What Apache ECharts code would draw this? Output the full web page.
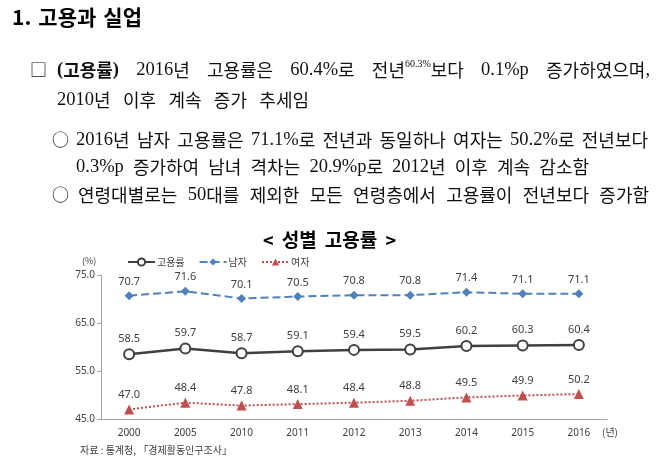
<!DOCTYPE html>
<html><head><meta charset="utf-8">
<script src="https://cdn.jsdelivr.net/npm/echarts@6/dist/echarts.min.js"></script>
<style>html,body{margin:0;padding:0;background:#fff;}#c{width:667px;height:460px;}</style>
</head><body><div id="c"></div>
<script>
var categories = ['2000','2005','2010','2011','2012','2013','2014','2015','2016'];
var totalRate = [58.5,59.7,58.7,59.1,59.4,59.5,60.2,60.3,60.4];
var maleRate = [70.7,71.6,70.1,70.5,70.8,70.8,71.4,71.1,71.1];
var femaleRate = [47.0,48.4,47.8,48.1,48.4,48.8,49.5,49.9,50.2];
var seriesNames = ['고용률','남자','여자'];
var yTicks = [45, 55, 65, 75];

var sans = '"Noto Sans CJK KR", "Noto Sans", sans-serif';
var ctx = document.createElement('canvas').getContext('2d');
function measure(t, font) { ctx.font = font; return ctx.measureText(t).width; }
var isHangul = function (ch) { return /[\uAC00-\uD7A3\u3131-\u318E]/.test(ch); };

var STY = {
  body: {h: {font: '18px "Noto Sans CJK KR"', sx: 1.0}, l: {font: '18.5px "Liberation Serif"', sx: 1}},
  bold: {h: {font: 'bold 18px "Noto Sans CJK KR"', sx: 1.0}, l: {font: 'bold 18.5px "Liberation Serif"', sx: 1}},
  sup:  {h: {font: '9px "Noto Sans CJK KR"', sx: 1}, l: {font: '10px "Liberation Serif"', sx: 1}, dy: -6},
  title: {h: {font: 'bold 21px "Noto Sans CJK KR"', sx: 1}, l: {font: 'bold 21px "Noto Sans CJK KR"', sx: 1}},
  ctitle: {h: {font: 'bold 19px "Noto Sans CJK KR"', sx: 1}, l: {font: 'bold 18px "Noto Sans CJK KR"', sx: 1}}
};
function runsOf(text, style) {
  var out = [], cur = '', curH = null;
  for (var i = 0; i < text.length; i++) {
    var h = isHangul(text[i]);
    if (curH === null || h === curH) { cur += text[i]; curH = h; }
    else { out.push({t: cur, s: curH ? style.h : style.l, dy: style.dy || 0}); cur = text[i]; curH = h; }
  }
  if (cur) out.push({t: cur, s: curH ? style.h : style.l, dy: style.dy || 0});
  out.forEach(function (r) { r.w = measure(r.t, r.s.font) * r.s.sx; });
  return out;
}
function line(words, x0, x1, y, color) {
  var ws = words.map(function (w) {
    var rs = [];
    w.forEach(function (seg) { rs = rs.concat(runsOf(seg[0], STY[seg[1]])); });
    var wd = rs.reduce(function (a, r) { return a + r.w; }, 0);
    return {runs: rs, w: wd};
  });
  var total = ws.reduce(function (a, w) { return a + w.w; }, 0);
  var gap = ws.length > 1 ? (x1 - x0 - total) / (ws.length - 1) : 0;
  var els = [], x = x0;
  ws.forEach(function (w) {
    w.runs.forEach(function (r) {
      els.push({type: 'text', x: x, y: y + r.dy, scaleX: r.s.sx, silent: true,
        style: {text: r.t, font: r.s.font, fill: color || '#111', textVerticalAlign: 'middle'}});
      x += r.w;
    });
    x += gap;
  });
  return els;
}
function W(s, st) { return s.split(' ').map(function (t) { return [[t, st || 'body']]; }); }
function txt(x, y, text, font, fill) {
  return {type: 'text', x: x, y: y, silent: true,
    style: {text: text, font: font, fill: fill || '#111', textVerticalAlign: 'middle'}};
}

var g = [];
g = g.concat(line(W('1. 고용과 실업', 'title'), 12, 142, 17, '#000'));
g.push(txt(30, 70, '□', '17px ' + sans));
g = g.concat(line([[['(고용률)', 'bold']]].concat(W('2016년 고용률은 60.4%로'))
  .concat([[['전년', 'body'], ['60.3%', 'sup'], ['보다', 'body']]])
  .concat(W('0.1%p 증가하였으며,')), 57, 650, 70));
g = g.concat(line(W('2010년 이후 계속 증가 추세임'), 57, 309, 100));
g.push(txt(52, 140, '○', '17px ' + sans));
g = g.concat(line(W('2016년 남자 고용률은 71.1%로 전년과 동일하나 여자는 50.2%로 전년보다'), 76, 648, 140));
g = g.concat(line(W('0.3%p 증가하여 남녀 격차는 20.9%p로 2012년 이후 계속 감소함'), 76, 589, 167));
g.push(txt(52, 195, '○', '17px ' + sans));
g = g.concat(line(W('연령대별로는 50대를 제외한 모든 연령층에서 고용률이 전년보다 증가함'), 78, 649, 195));
g = g.concat(line(W('< 성별 고용률 >', 'ctitle'), 263, 396, 240, '#000'));
g.push(txt(82, 261, '(%)', '9px ' + sans, '#404040'));
g.push(txt(602, 432, '(년)', '10px ' + sans, '#404040'));
g.push(txt(80, 450, '자료 : 통계청, 「경제활동인구조사」', '10px ' + sans, '#404040'));

var chart = echarts.init(document.getElementById('c'));
var lbl = {show: true, position: 'top', distance: 4, color: '#404040', fontSize: 11,
  fontFamily: '"Noto Sans", sans-serif', formatter: function (p) { return p.value.toFixed(1); }};
chart.setOption({
  animation: false,
  grid: {left: 101, right: 60, top: 275, bottom: 41},
  legend: {
    left: 122, top: 252, itemWidth: 27, itemHeight: 9, itemGap: 14,
    textStyle: {fontSize: 10, color: '#404040', fontFamily: sans, padding: [0,0,0,-3]},
    data: seriesNames
  },
  xAxis: {
    type: 'category', data: categories, boundaryGap: true,
    axisTick: {show: false},
    axisLine: {lineStyle: {color: '#a6a6a6', width: 1}},
    axisLabel: {color: '#404040', fontSize: 10, margin: 9, fontFamily: '"Noto Sans", sans-serif'}
  },
  yAxis: {
    type: 'value', min: yTicks[0], max: yTicks[yTicks.length - 1], interval: yTicks[1] - yTicks[0],
    splitLine: {show: false},
    axisLine: {show: true, lineStyle: {color: '#a6a6a6'}},
    axisTick: {show: true, length: 4, lineStyle: {color: '#a6a6a6'}},
    axisLabel: {color: '#404040', fontSize: 10, margin: 6, fontFamily: '"Noto Sans", sans-serif',
      formatter: function (v) { return v.toFixed(1); }}
  },
  series: [
    {name: seriesNames[0], type: 'line', data: totalRate, symbol: 'circle', symbolSize: 10,
     itemStyle: {color: '#fff', borderColor: '#404040', borderWidth: 2},
     lineStyle: {color: '#404040', width: 2.5}, label: lbl},
    {name: seriesNames[1], type: 'line', data: maleRate, symbol: 'diamond', symbolSize: 9,
     itemStyle: {color: '#4f81bd'},
     lineStyle: {color: '#4f81bd', width: 2, type: 'dashed'}, label: lbl},
    {name: seriesNames[2], type: 'line', data: femaleRate, symbol: 'triangle', symbolSize: 10,
     itemStyle: {color: '#c0504d'},
     lineStyle: {color: '#c0504d', width: 2, type: 'dotted'}, label: lbl}
  ],
  graphic: g
});
</script></body></html>
